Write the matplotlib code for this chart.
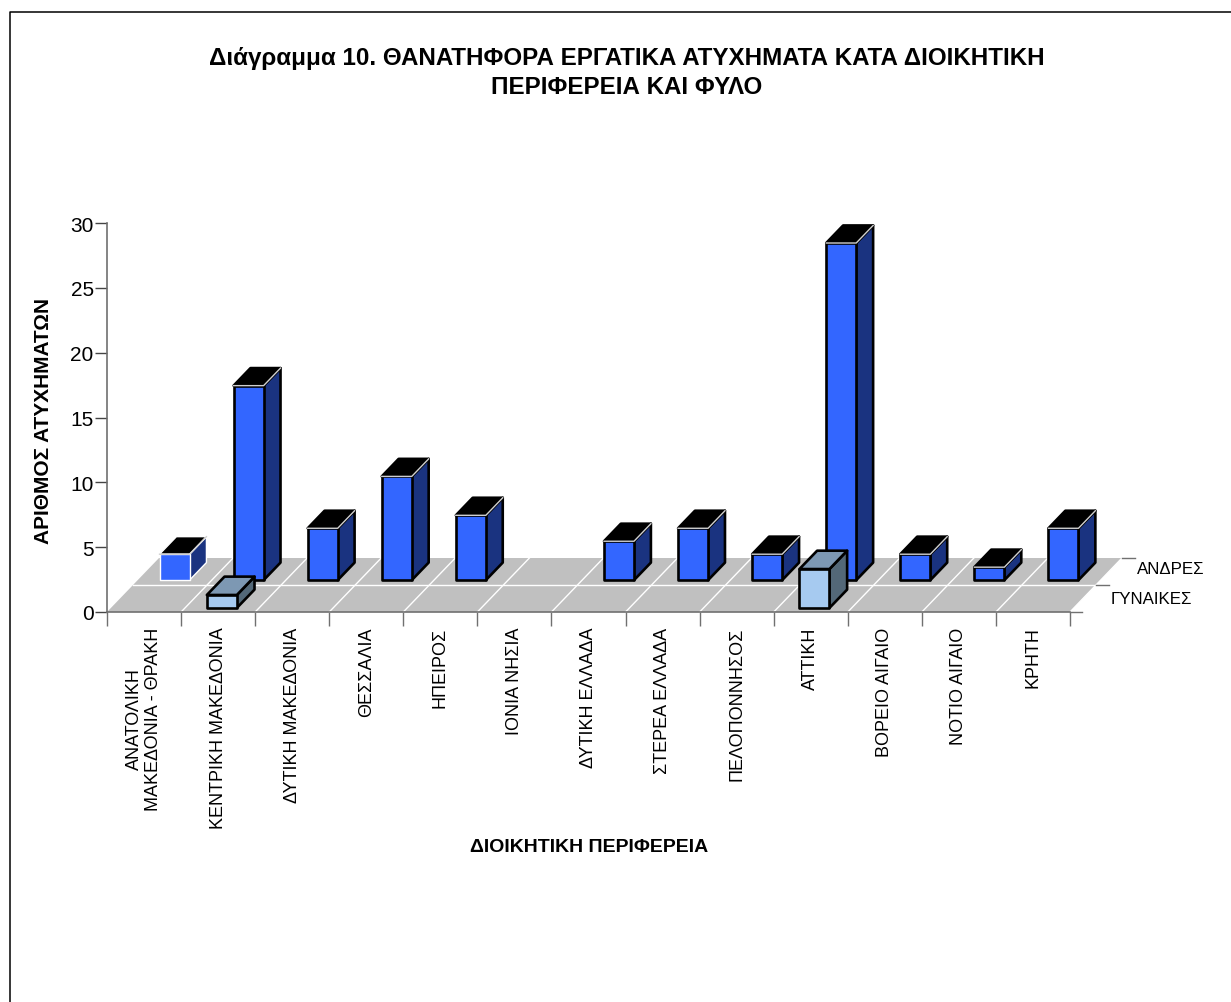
import matplotlib
matplotlib.use("Agg")
import matplotlib.pyplot as plt
from matplotlib.lines import Line2D
from matplotlib.patches import Polygon

plt.rcParams['font.family'] = ['Liberation Sans', 'DejaVu Sans']

regions = ["ΑΝΑΤΟΛΙΚΗ\nΜΑΚΕΔΟΝΙΑ - ΘΡΑΚΗ", "ΚΕΝΤΡΙΚΗ ΜΑΚΕΔΟΝΙΑ", "ΔΥΤΙΚΗ ΜΑΚΕΔΟΝΙΑ", "ΘΕΣΣΑΛΙΑ",
           "ΗΠΕΙΡΟΣ", "ΙΟΝΙΑ ΝΗΣΙΑ", "ΔΥΤΙΚΗ ΕΛΛΑΔΑ", "ΣΤΕΡΕΑ ΕΛΛΑΔΑ", "ΠΕΛΟΠΟΝΝΗΣΟΣ", "ΑΤΤΙΚΗ",
           "ΒΟΡΕΙΟ ΑΙΓΑΙΟ", "ΝΟΤΙΟ ΑΙΓΑΙΟ", "ΚΡΗΤΗ"]
men = [2, 15, 4, 8, 5, 0, 3, 4, 2, 26, 2, 1, 4]
women = [0, 1, 0, 0, 0, 0, 0, 0, 0, 3, 0, 0, 0]
rows = ["ΓΥΝΑΙΚΕΣ", "ΑΝΔΡΕΣ"]

W, H = 1231, 1003
fig = plt.figure(figsize=(W / 100, H / 100), dpi=100)
fig.patch.set_facecolor("white")
# the frame only shows on the top and left of the page
fig.add_artist(Line2D([10 / W, 10 / W, 1], [0, 1 - 12.5 / H, 1 - 12.5 / H], color="black", lw=1.1,
                      transform=fig.transFigure))

x0, x1, y0, y1 = 107, 1070, 613, 224
ax = fig.add_axes([x0 / W, 1 - y0 / H, (x1 - x0) / W, (y0 - y1) / H])
ax.set_xlim(0, len(regions))
ax.set_ylim(0, 30)
ax.patch.set_visible(False)

# oblique depth: one row moves the point right and up
dx = 26 / ((x1 - x0) / len(regions))
dy = 27 / ((y0 - y1) / 30)


def proj(c, v, d):
    return (c + d * dx, v + d * dy)


def poly(points, **kw):
    ax.add_patch(Polygon(points, closed=True, clip_on=False, **kw))


n = len(regions)
poly([proj(0, 0, 0), proj(n, 0, 0), proj(n, 0, 2), proj(0, 0, 2)], facecolor="#c0c0c0", edgecolor="none", zorder=1)
for i in range(1, n + 1):
    a, b = proj(i, 0, 0), proj(i, 0, 2)
    ax.plot([a[0], b[0]], [a[1], b[1]], color="white", lw=1, clip_on=False, zorder=2)
a, b = proj(0, 0, 1), proj(n, 0, 1)
ax.plot([a[0], b[0]], [a[1], b[1]], color="white", lw=1, clip_on=False, zorder=2)


def bar(c, row, v, front, side, top, edge, z):
    l, r = c + 0.295, c + 0.70
    d0, d1 = row + (0.18 if row else 0.15), row + 0.83
    kw = dict(edgecolor=edge, lw=1.9 if edge == "black" else 1, joinstyle="round", zorder=z)
    poly([proj(r, 0, d0), proj(r, 0, d1), proj(r, v, d1), proj(r, v, d0)], facecolor=side, **kw)
    poly([proj(l, v, d0), proj(r, v, d0), proj(r, v, d1), proj(l, v, d1)], facecolor=top, **kw)
    poly([proj(l, 0, d0), proj(r, 0, d0), proj(r, v, d0), proj(l, v, d0)], facecolor=front, **kw)
    if row == 1:
        # light highlight along the top edges of the men's bars
        xs = [proj(l, v, d0), proj(r, v, d0), proj(r, v, d1)]
        ax.plot([p[0] for p in xs], [p[1] for p in xs], color="#d0d0d0", lw=1, clip_on=False, zorder=z + 0.1)


for i, v in enumerate(men):
    if v > 0:
        bar(i, 1, v, "#3366ff", "#1a3380", "black", "white" if i == 0 else "black", 3 + i * 0.2)
for i, v in enumerate(women):
    if v > 0:
        bar(i, 0, v, "#a6caf0", "#536878", "#7d98b3", "black", 7 + i * 0.2)

grey = "#707070"
for s in ["top", "right"]:
    ax.spines[s].set_visible(False)
for s in ["left", "bottom"]:
    ax.spines[s].set_color(grey)
    ax.spines[s].set_linewidth(1.2)
    ax.spines[s].set_zorder(2.5)

ax.set_yticks(range(0, 31, 5))
ax.tick_params(axis="y", length=8.6, width=1, color="#444444", labelsize=15, pad=1)
ax.set_xticks(range(n + 1))
ax.set_xticklabels([])
ax.tick_params(axis="x", length=10, width=1, color=grey)

for i, name in enumerate(regions):
    ax.annotate(name, (i + 0.5, 0), xytext=(0, -10.5), textcoords="offset points", rotation=90,
                ha="center", va="top", fontsize=13, linespacing=1.15, multialignment="center",
                annotation_clip=False)

# depth ticks and row names at the right side of the floor
for d in [1, 2]:
    p = proj(n, 0, d)
    ax.plot([p[0], p[0] + 0.18], [p[1], p[1]], color=grey, lw=1, clip_on=False)
ax.plot([n, n + 0.16], [0, 0], color=grey, lw=1, clip_on=False)
fig.text(1111 / W, 1 - 599 / H, rows[0], fontsize=12.2, ha="left", va="center")
fig.text(1137 / W, 1 - 570 / H, rows[1], fontsize=12.2, ha="left", va="center")

fig.text(627 / W, 1 - 73 / H, "Διάγραμμα 10. ΘΑΝΑΤΗΦΟΡΑ ΕΡΓΑΤΙΚΑ ΑΤΥΧΗΜΑΤΑ ΚΑΤΑ ΔΙΟΙΚΗΤΙΚΗ\nΠΕΡΙΦΕΡΕΙΑ ΚΑΙ ΦΥΛΟ",
         fontsize=17.4, fontweight="bold", ha="center", va="center", linespacing=1.35)
fig.text(44 / W, 1 - 421 / H, "ΑΡΙΘΜΟΣ ΑΤΥΧΗΜΑΤΩΝ", fontsize=15, fontweight="bold", rotation=90, ha="center", va="center")
fig.text(589 / W, 1 - 848 / H, "ΔΙΟΙΚΗΤΙΚΗ ΠΕΡΙΦΕΡΕΙΑ", fontsize=14, fontweight="bold", ha="center", va="center")

fig.savefig("out.png", dpi=100)
